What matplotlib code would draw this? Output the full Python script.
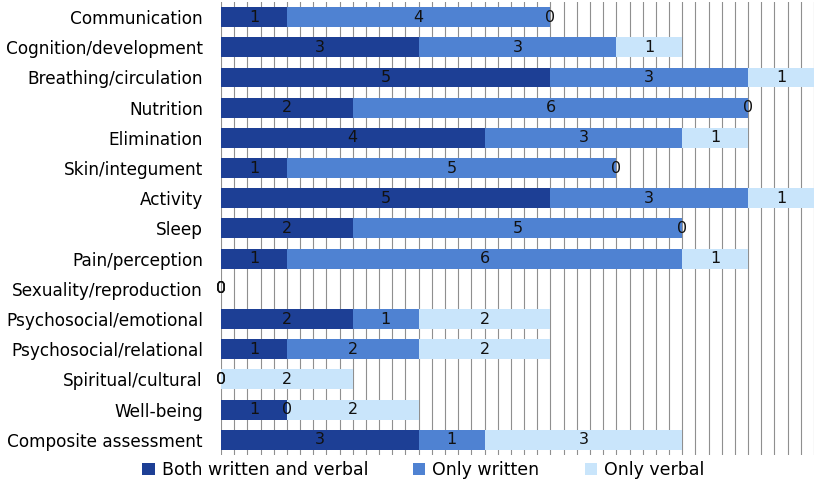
import matplotlib.pyplot as plt
import numpy as np

# categories, top to bottom
categories = ["Communication", "Cognition/development", "Breathing/circulation",
              "Nutrition", "Elimination", "Skin/integument", "Activity", "Sleep",
              "Pain/perception", "Sexuality/reproduction", "Psychosocial/emotional",
              "Psychosocial/relational", "Spiritual/cultural", "Well-being",
              "Composite assessment"]
both_written_verbal = [1, 3, 5, 2, 4, 1, 5, 2, 1, 0, 2, 1, 0, 1, 3]
only_written = [4, 3, 3, 6, 3, 5, 3, 5, 6, 0, 1, 2, 0, 0, 1]
only_verbal = [0, 1, 1, 0, 1, 0, 1, 0, 1, 0, 2, 2, 2, 2, 3]

series_names = ["Both written and verbal", "Only written", "Only verbal"]
colors = ["#1d3f95", "#4f82d2", "#c9e5fb"]

fig = plt.figure(figsize=(8.14, 4.95), dpi=100)
ax = fig.add_axes([0.2715, 0.081, 0.7285, 0.915])

y = np.arange(len(categories))
left = np.zeros(len(categories))
for vals, name, col in zip([both_written_verbal, only_written, only_verbal], series_names, colors):
    vals = np.array(vals, dtype=float)
    ax.barh(y, vals, left=left, height=0.66, color=col, label=name, zorder=2)
    for yi, l, v in zip(y, left, vals):
        ax.text(l + v / 2, yi, str(int(v)), ha="center", va="center",
                fontsize=11.5, color="#111111", zorder=3)
    left += vals

ax.set_xlim(0, 9)
ax.set_ylim(len(categories) - 0.5, -0.5)
ax.set_xticks(np.arange(0, 9.01, 0.2))
ax.xaxis.grid(True, color="#8f8f8f", linewidth=0.8, zorder=0)
ax.set_axisbelow(True)
ax.tick_params(axis="x", length=0, labelbottom=False)
ax.tick_params(axis="y", length=0, labelsize=12.2, pad=13)
ax.set_yticks(y)
ax.set_yticklabels(categories)
for s in ax.spines.values():
    s.set_visible(False)

fig.legend(loc="lower center", bbox_to_anchor=(0.52, 0.0), ncol=3, frameon=False,
           fontsize=12.5, handlelength=0.7, handleheight=0.7, columnspacing=2.6,
           handletextpad=0.4, bbox_transform=fig.transFigure)

fig.savefig("out.png", dpi=100)
